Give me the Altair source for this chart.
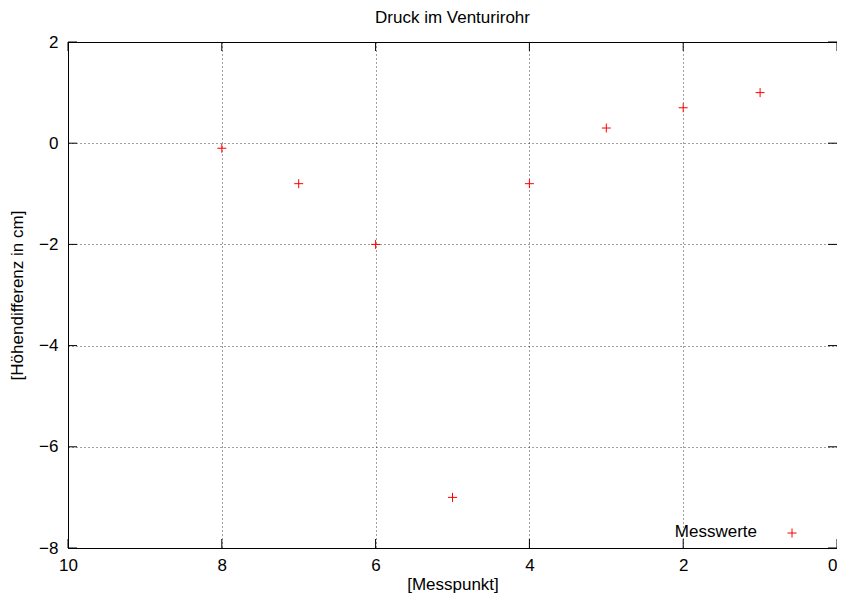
import altair as alt
import pandas as pd

messpunkt = [8, 7, 6, 5, 4, 3, 2, 1]
hoehendifferenz = [-0.1, -0.8, -2.0, -7.0, -0.8, 0.3, 0.7, 1.0]
x_ticks = [0, 2, 4, 6, 8, 10]
y_ticks = [-8, -6, -4, -2, 0, 2]

W, H = 769, 506
FONT = "Liberation Sans"
FS = 17
TICK = 9
PLUS = "M-1,0L1,0M0,-1L0,1"

df = pd.DataFrame({"x": messpunkt, "y": hoehendifferenz, "s": ["Messwerte"] * len(messpunkt)})
xt = pd.DataFrame({"x": x_ticks})
yt = pd.DataFrame({"y": y_ticks})

xscale = alt.Scale(domain=[10, 0], nice=False, zero=False)
yscale = alt.Scale(domain=[-8, 2], nice=False, zero=False)

axis_common = dict(grid=True, gridDash=[1, 3], gridColor="#000", gridOpacity=0.75, tickSize=0, domain=False,
                   labelFont=FONT, labelFontSize=FS, labelColor="black", titleFont=FONT, titleFontSize=FS,
                   titleFontWeight="normal", titleColor="black", format="d", labelFlush=False)
xaxis = alt.Axis(values=x_ticks, title="[Messpunkt]", labelPadding=9, titlePadding=3,
                 labelAlign={"condition": {"test": "datum.value == 0", "value": "right"}, "value": "center"},
                 **axis_common)
yaxis = alt.Axis(values=y_ticks, title="[Höhendifferenz in cm]", labelPadding=10, titlePadding=12, **axis_common)

points = alt.Chart(df).mark_point(shape=PLUS, filled=False, color="red", size=81, strokeWidth=1, opacity=1).encode(
    x=alt.X("x:Q", scale=xscale, axis=xaxis),
    y=alt.Y("y:Q", scale=yscale, axis=yaxis),
)

tick_style = dict(color="black", strokeWidth=1)
yticks_left = alt.Chart(yt).mark_rule(**tick_style).encode(
    y=alt.Y("y:Q", scale=yscale), x=alt.value(0), x2=alt.value(TICK))
yticks_right = alt.Chart(yt).mark_rule(**tick_style).encode(
    y=alt.Y("y:Q", scale=yscale), x=alt.value(W - TICK), x2=alt.value(W))
xticks_bottom = alt.Chart(xt).mark_rule(**tick_style).encode(
    x=alt.X("x:Q", scale=xscale), y=alt.value(H - TICK), y2=alt.value(H))
xticks_top = alt.Chart(xt).mark_rule(**tick_style).encode(
    x=alt.X("x:Q", scale=xscale), y=alt.value(0), y2=alt.value(TICK))

legend_df = pd.DataFrame({"label": ["Messwerte"]})
legend_text = alt.Chart(legend_df).mark_text(align="right", baseline="alphabetic", font=FONT, fontSize=FS,
                                             color="black").encode(
    text="label:N", x=alt.value(689), y=alt.value(495))
legend_sym = alt.Chart(legend_df).mark_point(shape=PLUS, filled=False, color="red", size=81, strokeWidth=1,
                                             opacity=1).encode(
    x=alt.value(724), y=alt.value(491))

chart = alt.layer(points, yticks_left, yticks_right, xticks_bottom, xticks_top, legend_text, legend_sym).properties(
    width=W, height=H,
    title=alt.TitleParams("Druck im Venturirohr", font=FONT, fontSize=FS, fontWeight="normal", color="black",
                          offset=10, dy=4, anchor="middle"),
    autosize=alt.AutoSizeParams(type="none"),
    padding={"left": 60, "top": 34, "right": 0, "bottom": 45},
    background="white",
).configure_view(stroke="black", strokeWidth=1)

chart.save("out.html", embed_options={"renderer": "svg", "actions": False})
